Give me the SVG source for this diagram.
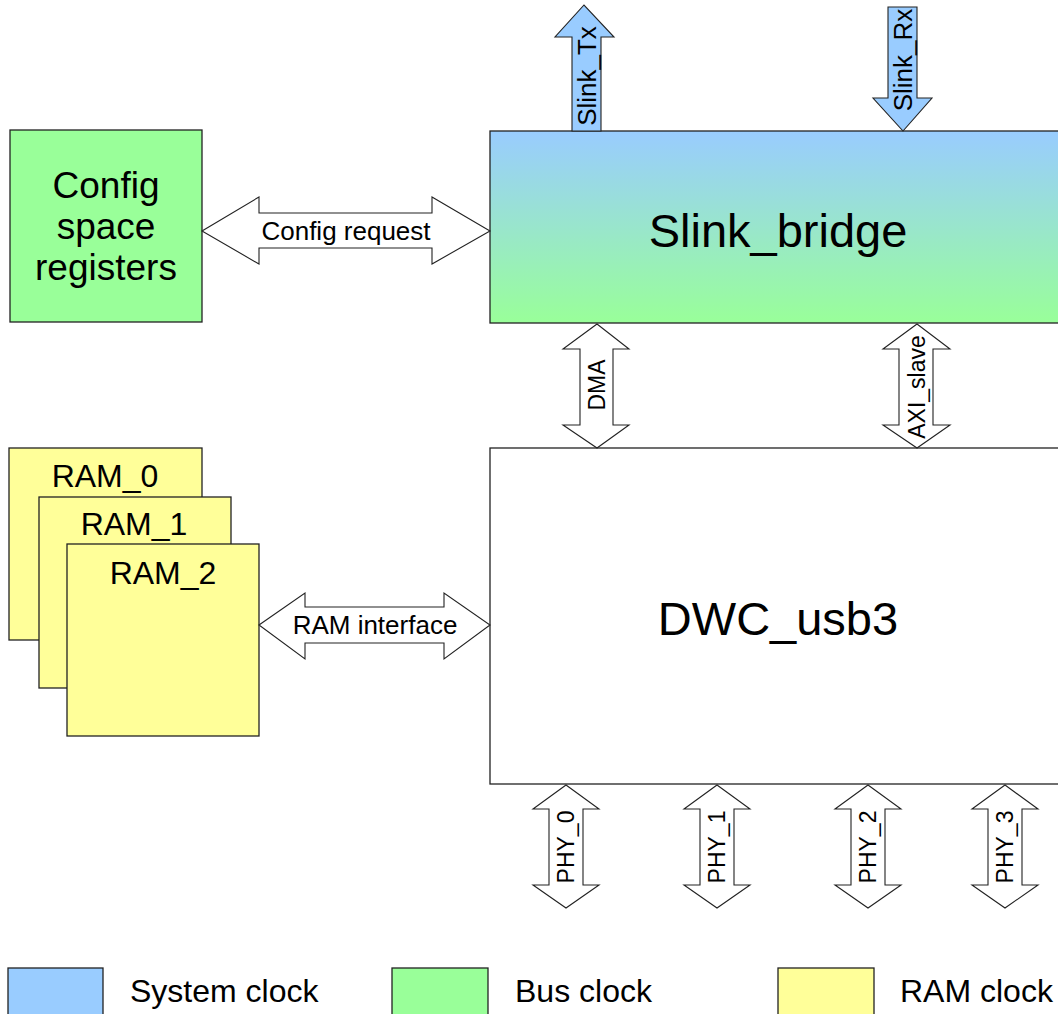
<svg xmlns="http://www.w3.org/2000/svg" width="1058" height="1014" viewBox="0 0 1058 1014">
  <defs>
    <linearGradient id="bridgeGrad" x1="0" y1="0" x2="0" y2="1">
      <stop offset="0" stop-color="#99ccff"/>
      <stop offset="1" stop-color="#99ff99"/>
    </linearGradient>
    <style>
      .box { stroke: #222; stroke-width: 1.3; }
      .arrow { fill: #ffffff; stroke: #222; stroke-width: 1.1; stroke-linejoin: miter; }
      .sys { fill: #99ccff; }
      .bus { fill: #99ff99; }
      .ram { fill: #ffff99; }
      text { font-family: "Liberation Sans", Arial, sans-serif; fill: #000; }
      .big { font-size: 47px; text-anchor: middle; }
      .mid { font-size: 37px; text-anchor: middle; }
      .ramlbl { font-size: 32px; text-anchor: middle; }
      .lbl { font-size: 23px; text-anchor: middle; dominant-baseline: central; }
      .lbl2 { font-size: 26px; text-anchor: middle; dominant-baseline: central; }
      .leg { font-size: 32px; }
    </style>
  </defs>

  <rect width="1058" height="1014" fill="#ffffff"/>

  <!-- Blocks -->
  <g id="slink_bridge">
    <rect class="box" x="490" y="131" width="580" height="192" fill="url(#bridgeGrad)"/>
    <text class="big" x="778" y="247">Slink_bridge</text>
  </g>

  <g id="config_space">
    <rect class="box bus" x="10" y="130" width="192" height="192"/>
    <text class="mid" x="106" y="198">Config</text>
    <text class="mid" x="106" y="239">space</text>
    <text class="mid" x="106" y="280">registers</text>
  </g>

  <g id="dwc_usb3">
    <rect class="box" x="490" y="448" width="580" height="336" fill="#ffffff"/>
    <text class="big" x="778" y="635">DWC_usb3</text>
  </g>

  <g id="ram_0">
    <rect class="box ram" x="9" y="448" width="193" height="192"/>
    <text class="ramlbl" x="105" y="487">RAM_0</text>
  </g>
  <g id="ram_1">
    <rect class="box ram" x="39" y="497" width="192" height="191"/>
    <text class="ramlbl" x="134" y="535">RAM_1</text>
  </g>
  <g id="ram_2">
    <rect class="box ram" x="67" y="544" width="192" height="192"/>
    <text class="ramlbl" x="163" y="584">RAM_2</text>
  </g>

  <!-- Connectors -->
  <g id="connectors">
    <!-- Slink_Tx: outgoing, up -->
    <polygon class="arrow sys" points="572,131 572,37 555,37 584,5 614,37 601,37 601,131"/>
    <text class="lbl2" transform="translate(587,76) rotate(-90)">Slink_Tx</text>

    <!-- Slink_Rx: incoming, down -->
    <polygon class="arrow sys" points="888,7 917,7 917,98 932,98 903,131 873,98 888,98"/>
    <text class="lbl2" transform="translate(903,60) rotate(-90)">Slink_Rx</text>

    <!-- Config request -->
    <polygon class="arrow" points="202,231 259,197 259,213 432,213 432,197 490,231 432,264 432,248 259,248 259,264"/>
    <text class="lbl2" x="346" y="231">Config request</text>

    <!-- DMA -->
    <polygon class="arrow" points="597,324 629,349 613,349 613,425 629,425 597,448 563,425 580,425 580,349 563,349"/>
    <text class="lbl" transform="translate(597,385) rotate(-90)">DMA</text>

    <!-- AXI_slave -->
    <polygon class="arrow" points="917,324 950,349 933,349 933,425 950,425 917,448 883,425 899,425 899,349 883,349"/>
    <text class="lbl" transform="translate(917,387) rotate(-90)">AXI_slave</text>

    <!-- RAM interface -->
    <polygon class="arrow" points="259,625 305,593 305,607 444,607 444,593 490,625 444,659 444,643 305,643 305,659"/>
    <text class="lbl2" x="375" y="625">RAM interface</text>

    <!-- PHY ports -->
    <polygon class="arrow" points="566,785 599,809 583,809 583,885 599,885 566,908 533,885 549,885 549,809 533,809"/>
    <text class="lbl" transform="translate(566,847) rotate(-90)">PHY_0</text>

    <polygon class="arrow" points="717,785 750,809 734,809 734,885 750,885 717,908 684,885 700,885 700,809 684,809"/>
    <text class="lbl" transform="translate(717,847) rotate(-90)">PHY_1</text>

    <polygon class="arrow" points="868,785 901,809 885,809 885,885 901,885 868,908 835,885 851,885 851,809 835,809"/>
    <text class="lbl" transform="translate(868,847) rotate(-90)">PHY_2</text>

    <polygon class="arrow" points="1005,785 1038,809 1022,809 1022,885 1038,885 1005,908 972,885 988,885 988,809 972,809"/>
    <text class="lbl" transform="translate(1005,847) rotate(-90)">PHY_3</text>
  </g>

  <!-- Legend -->
  <g id="legend">
    <rect class="box sys" x="8" y="968" width="95" height="60"/>
    <text class="leg" x="130" y="1002">System clock</text>
    <rect class="box bus" x="392" y="968" width="96" height="60"/>
    <text class="leg" x="515" y="1002">Bus clock</text>
    <rect class="box ram" x="778" y="968" width="96" height="60"/>
    <text class="leg" x="900" y="1002">RAM clock</text>
  </g>
</svg>
